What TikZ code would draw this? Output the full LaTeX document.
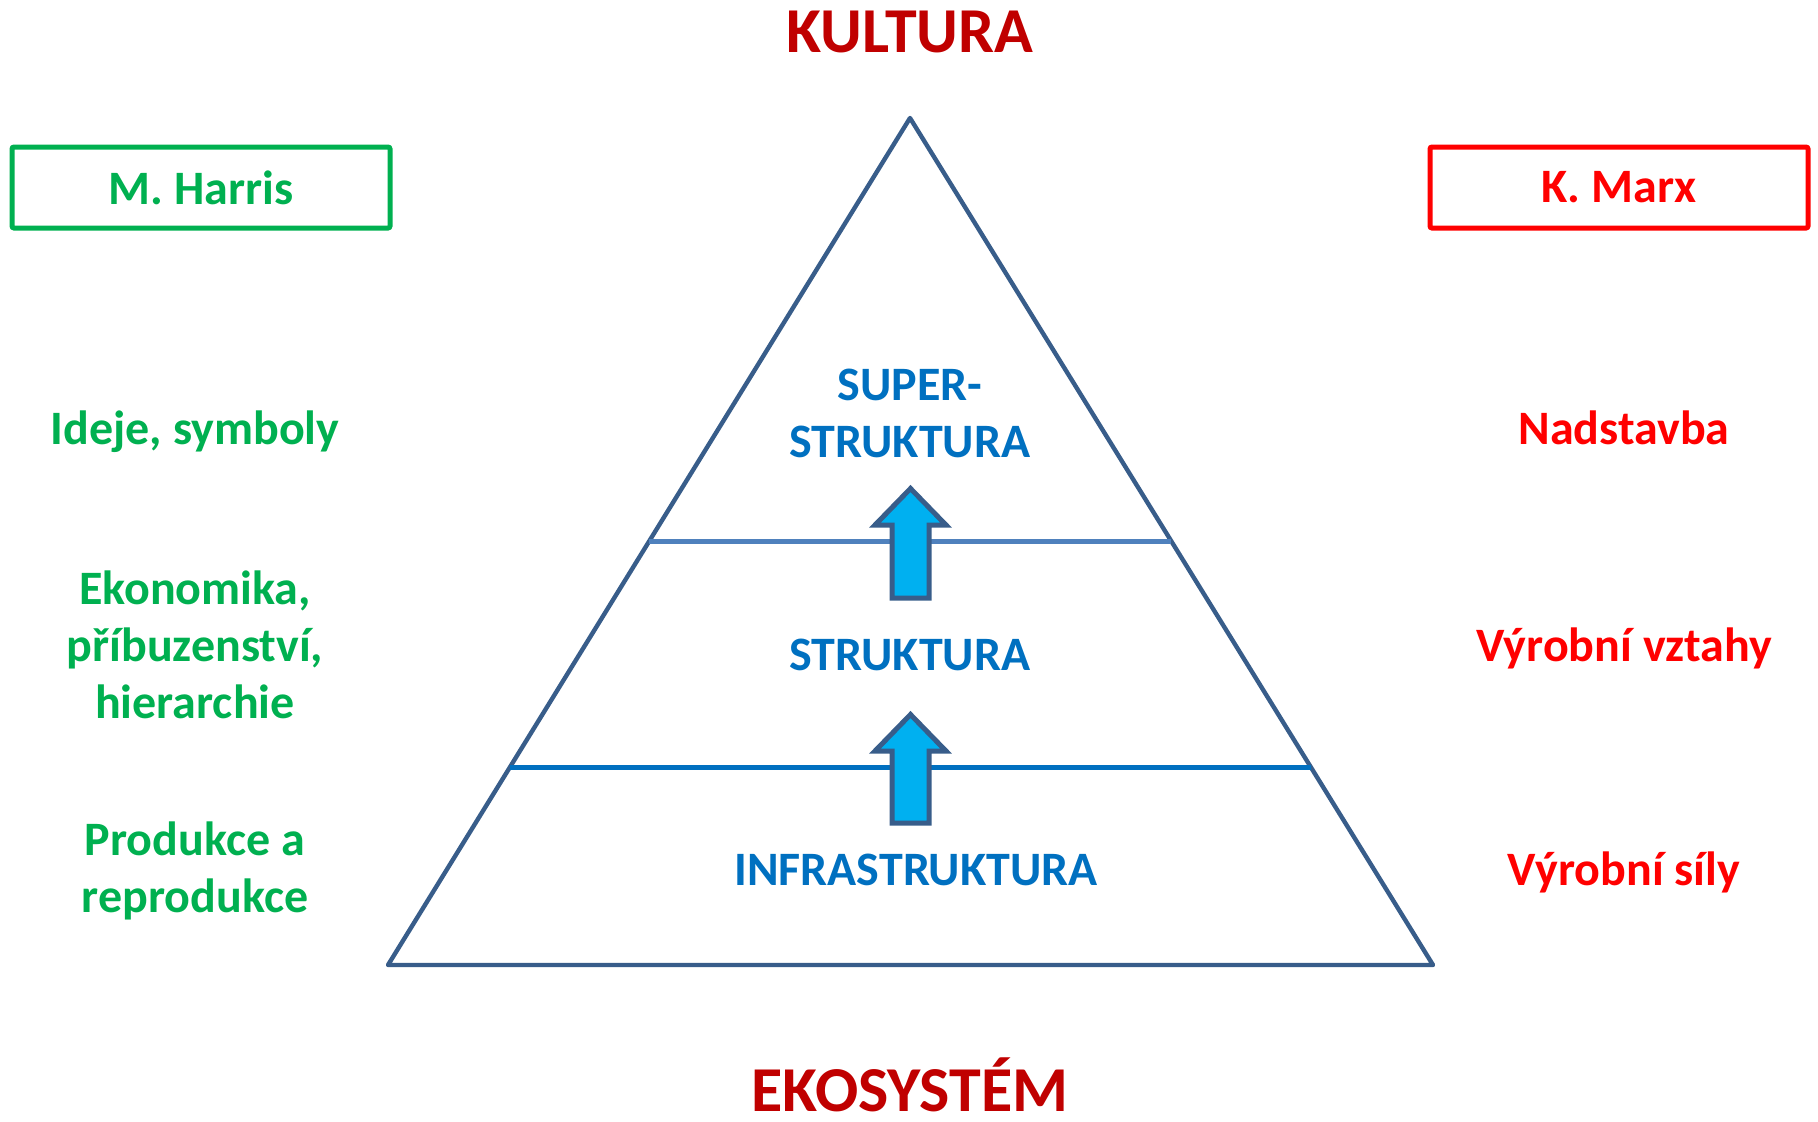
\documentclass[tikz,border=0pt]{standalone}
\usepackage{fontspec}
\setmainfont{Carlito}
\usetikzlibrary{calc}

\definecolor{pyrline}{RGB}{56,93,138}
\definecolor{upline}{RGB}{79,129,189}
\definecolor{lowline}{RGB}{0,112,192}
\definecolor{arrfill}{RGB}{0,176,240}
\definecolor{harris}{RGB}{0,176,80}
\definecolor{marx}{RGB}{255,0,0}
\definecolor{title}{RGB}{192,0,0}
\definecolor{level}{RGB}{0,112,192}

\begin{document}
\begin{tikzpicture}[x=0.5pt,y=-0.5pt,
  txt/.style={font=\fontsize{24}{28.5}\selectfont\bfseries, align=center, inner sep=0pt, anchor=base},
  big/.style={font=\fontsize{32}{36}\selectfont\bfseries, text=title, inner sep=0pt, anchor=base},
  namebox/.style={draw, line width=2.5pt, rounded corners=1pt, minimum width=189pt, minimum height=40.5pt,
    font=\fontsize{24}{28.5}\selectfont\bfseries},
  uparrow/.style={draw=pyrline, fill=arrfill, line width=2.5pt}]

  \useasboundingbox (0,0) rectangle (1818,1121);

  %% pyramid
  \coordinate (apex) at (910,118);
  \coordinate (bl) at (388,965);
  \coordinate (br) at (1433,965);
  \draw[pyrline, line width=2.2pt, line join=round] (apex) -- (bl) -- (br) -- cycle;

  %% level lines
  \coordinate (ul) at ($(apex)!0.4995!(bl)$);
  \coordinate (ur) at ($(apex)!0.4995!(br)$);
  \coordinate (ll) at ($(apex)!0.767!(bl)$);
  \coordinate (lr) at ($(apex)!0.767!(br)$);
  \draw[upline, line width=2.5pt] (ul) -- (ur);
  \draw[lowline, line width=2.5pt] (ll) -- (lr);

  %% block arrows
  \coordinate (a1) at (910.5,598);
  \coordinate (a2) at (910.5,823);
  \draw[uparrow] (a1) ++(-18.5,0) -- ++(0,-73) -- ++(-17,0) -- ++(35.5,-36.5)
    -- ++(35.5,36.5) -- ++(-17,0) -- ++(0,73) -- cycle;
  \draw[uparrow] (a2) ++(-18.5,0) -- ++(0,-72) -- ++(-17,0) -- ++(35.5,-36.5)
    -- ++(35.5,36.5) -- ++(-17,0) -- ++(0,72) -- cycle;

  %% levels
  \node[txt, text=level] (super) at (910,457) {SUPER-\\STRUKTURA};
  \node[txt, text=level] (struct) at (910,670) {STRUKTURA};
  \node[txt, text=level] (infra) at (916,885) {INFRASTRUKTURA};

  %% titles
  \node[big] (kultura) at (910,52) {KULTURA};
  \node[big] (eko) at (910,1111) {EKOSYSTÉM};

  %% M. Harris
  \node[namebox, draw=harris, text=harris] (harris) at (201,187.5) {M. Harris};
  \node[txt, text=harris] (ideje) at (195,444) {Ideje, symboly};
  \node[txt, text=harris] (ekon) at (195,718) {Ekonomika,\\příbuzenství,\\hierarchie};
  \node[txt, text=harris] (prod) at (195,912) {Produkce a\\reprodukce};

  %% K. Marx
  \node[namebox, draw=marx, text=marx] (marx) at (1619,187.5) {K. Marx};
  \node[txt, text=marx] (nad) at (1624,444) {Nadstavba};
  \node[txt, text=marx] (vztahy) at (1624,661) {Výrobní vztahy};
  \node[txt, text=marx] (sily) at (1624,885) {Výrobní síly};

\end{tikzpicture}
\end{document}
